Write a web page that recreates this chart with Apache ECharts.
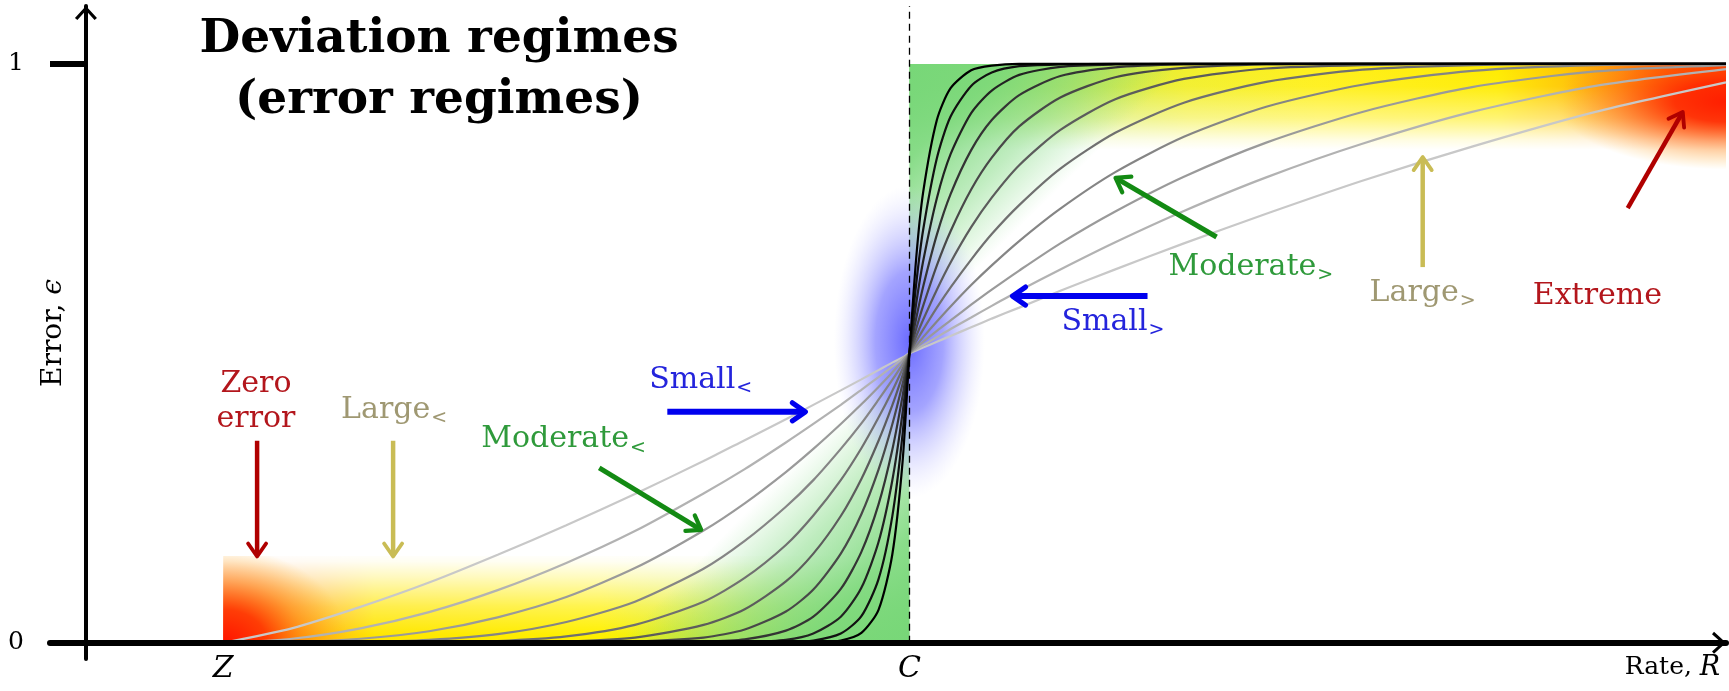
<!DOCTYPE html>
<html><head><meta charset="utf-8">
<script src="https://cdn.jsdelivr.net/npm/echarts@6/dist/echarts.min.js"></script>
<style>html,body{margin:0;padding:0;background:#fff}#chart{width:1729px;height:691px}</style>
</head><body><div id="chart"></div>
<script>
// ---------------- data ----------------
const xTickValues = [1, 6, 11.56];
const xTickLabels = ['Z', 'C', 'Rate, R'];
const yTickValues = [0, 1];
const yTickLabels = ['0', '1'];
const yAxisTitle = 'Error, ϵ';

// shared rate positions of the sampled points (Z = 1, C = 6)
const rateX = [1, 1.5, 2, 2.5, 3, 3.5, 4, 4.5, 4.8, 5.1, 5.3, 5.5, 5.65, 5.775, 5.875, 5.95, 6,
               6.05, 6.1, 6.2, 6.3, 6.45, 6.6, 6.8, 7.1, 7.5, 8, 8.6, 9.3, 10.1, 11, 11.95];

// error curves, lightest (broadest) to darkest (sharpest)
const curve01 = [0, .025, .062, .104, .152, .203, .257, .314, .350, .386, .411, .436, .455, .471, .484, .493, .5,
                 .505, .510, .520, .530, .545, .560, .579, .608, .645, .690, .741, .798, .857, .917, .968];
const curve02 = [0, .007, .025, .053, .091, .138, .193, .258, .300, .346, .378, .411, .437, .459, .477, .491, .5,
                 .507, .514, .528, .542, .562, .582, .608, .645, .692, .746, .804, .862, .917, .962, .991];
const curve03 = [0, .001, .007, .020, .044, .079, .129, .194, .241, .295, .335, .378, .412, .442, .467, .487, .5,
                 .510, .520, .539, .557, .584, .610, .643, .690, .745, .805, .864, .917, .960, .987, .998];
const curve04 = [0, 0, .001, .005, .015, .036, .071, .128, .176, .235, .281, .335, .379, .420, .454, .481, .5,
                 .514, .528, .555, .581, .618, .652, .694, .750, .813, .874, .926, .964, .988, .998, 1];
const curve05 = [0, 0, 0, .001, .003, .011, .031, .071, .112, .169, .220, .281, .336, .389, .435, .473, .5,
                 .521, .541, .579, .614, .662, .706, .756, .819, .881, .933, .969, .990, .998, 1, 1];
const curve06 = [0, 0, 0, 0, 0, .002, .009, .031, .058, .106, .154, .219, .283, .349, .410, .462, .5,
                 .530, .558, .610, .657, .718, .769, .825, .886, .939, .974, .992, .998, 1, 1, 1];
const curve07 = [0, 0, 0, 0, 0, 0, .002, .009, .023, .054, .092, .154, .222, .299, .377, .447, .5,
                 .543, .582, .652, .711, .783, .838, .892, .942, .977, .993, .999, 1, 1, 1, 1];
const curve08 = [0, 0, 0, 0, 0, 0, 0, .002, .006, .021, .045, .093, .157, .239, .333, .426, .5,
                 .561, .615, .705, .775, .851, .903, .946, .979, .994, .999, 1, 1, 1, 1, 1];
const curve09 = [0, 0, 0, 0, 0, 0, 0, 0, .001, .005, .016, .045, .095, .174, .280, .397, .5,
                 .587, .659, .768, .844, .915, .954, .981, .995, .999, 1, 1, 1, 1, 1, 1];
const curve10 = [0, 0, 0, 0, 0, 0, 0, 0, 0, .001, .004, .016, .046, .110, .218, .360, .5,
                 .621, .713, .837, .909, .962, .985, .996, .999, 1, 1, 1, 1, 1, 1, 1];
const curve11 = [0, 0, 0, 0, 0, 0, 0, 0, 0, 0, 0, .004, .017, .057, .152, .312, .5,
                 .666, .778, .903, .958, .989, .997, 1, 1, 1, 1, 1, 1, 1, 1, 1];

// regime zones (rate from, error from, rate to, error to)
const zoneNames = ['bandLow', 'fadeLow', 'zeroBlob', 'greenLow', 'bandHigh', 'fadeHigh', 'extremeBlob', 'greenHigh', 'smallBlob'];
const zoneBounds = [
  [1, 0, 6, 0.15], [0.99, 0, 6, 0.156], [1, 0, 2.4, 0.15], [3.6, 0, 6, 0.56],
  [6, 0.85, 11.95, 1], [6, 0.844, 11.95, 1], [10.0, 0.8, 11.95, 1], [6, 0.54, 7.9, 1],
  [5.45, 0.25, 6.55, 0.79]
];

// annotation arrows (from rate, from error, to rate, to error)
const arrowSegments = [
  [1.247, 0.349, 1.247, 0.149], [2.238, 0.349, 2.238, 0.149],
  [3.740, 0.302, 4.483, 0.195], [4.236, 0.399, 5.242, 0.399],
  [7.735, 0.599, 6.751, 0.599], [8.238, 0.701, 7.502, 0.803],
  [9.740, 0.649, 9.740, 0.839], [11.234, 0.751, 11.635, 0.917]
];
// annotation labels
const labelTexts = ['Zero\nerror', 'Large', 'Moderate', 'Small', 'Small', 'Moderate', 'Large', 'Extreme'];
const labelSubs = ['', '<', '<', '<', '>', '>', '>', ''];
const labelAnchors = [[1.239, 0.417], [1.859, 0.402], [2.880, 0.351], [4.104, 0.454],
                      [7.108, 0.554], [7.888, 0.649], [9.353, 0.604], [10.542, 0.598]];

// ---------------- styles ----------------
const curves = [curve01, curve02, curve03, curve04, curve05, curve06, curve07, curve08, curve09, curve10, curve11];
const curveColors = ['#c8c8c8', '#b2b2b2', '#9a9a9a', '#858585', '#707070', '#5c5c5c', '#484848', '#343434', '#222222', '#111111', '#000000'];
const arrowColors = ['#b00000', '#c9bc55', '#138a13', '#0000ee', '#0000ee', '#138a13', '#c9bc55', '#b00000'];
const arrowWidths = [4.5, 4.5, 5, 6, 6, 5, 4.5, 4.5];
const labelColors = ['#b3161c', '#9f9872', '#2f9a3b', '#2424dc', '#2424dc', '#2f9a3b', '#9f9872', '#b3161c'];
const labelAligns = ['center', 'left', 'left', 'left', 'left', 'left', 'left', 'left'];
const SERIF = 'DejaVu Serif';
const chevron = 'path://M0,12 L11,0 L22,12 L19.6,14 L11,4.4 L2.4,14 Z';

const G = echarts.graphic;
function lin(x, y, x2, y2, stops) { return new G.LinearGradient(x, y, x2, y2, stops.map(s => ({offset: s[0], color: s[1]}))); }
function rad(x, y, r, stops) { return new G.RadialGradient(x, y, r, stops.map(s => ({offset: s[0], color: s[1]})), true); }

// rectangle filled with an elliptical radial gradient centred at (cx, cy)
function ellipticRect(x, y, w, h, cx, cy, rx, ry, stops) {
  const k = ry / rx;
  return {
    type: 'rect',
    shape: {x: x, y: cy + (y - cy) / k, width: w, height: h / k},
    scaleY: k, originX: cx, originY: cy,
    style: {fill: rad(cx, cy, rx, stops)}
  };
}

function renderZone(params, api) {
  const name = zoneNames[params.dataIndex];
  const a = api.coord([api.value(0), api.value(1)]);
  const b = api.coord([api.value(2), api.value(3)]);
  const x = a[0], y = b[1], w = b[0] - a[0], h = a[1] - b[1];
  let fill;
  if (name === 'bandLow') {
    fill = lin(0, 0, 1, 0, [[0, '#ff4a1a'], [0.1, '#ffa020'], [0.22, '#ffe600'], [0.55, '#fff000'], [0.72, '#d8ec30'], [0.86, '#a8e060'], [1, '#80d880']]);
  } else if (name === 'fadeLow') {
    fill = lin(0, 0, 0, 1, [[0, 'rgba(255,255,255,1)'], [0.1, 'rgba(255,255,255,0.95)'], [0.27, 'rgba(255,255,255,0.75)'], [0.6, 'rgba(255,255,255,0.3)'], [0.92, 'rgba(255,255,255,0)'], [1, 'rgba(255,255,255,0)']]);
  } else if (name === 'zeroBlob') {
    return ellipticRect(x, y, w, h, a[0], a[1], 125, 95,
      [[0, 'rgba(255,20,0,1)'], [0.35, 'rgba(255,55,0,0.92)'], [0.65, 'rgba(255,130,0,0.5)'], [1, 'rgba(255,180,0,0)']]);
  } else if (name === 'greenLow') {
    fill = lin(0, 0, 1, 1, [[0, 'rgba(130,220,130,0)'], [0.55, 'rgba(130,220,130,0)'], [0.69, 'rgba(128,218,128,0.5)'], [0.84, 'rgba(122,216,122,0.88)'], [1, 'rgba(120,215,120,1)']]);
  } else if (name === 'bandHigh') {
    fill = lin(0, 0, 1, 0, [[0, '#7fd87f'], [0.1, '#a2e069'], [0.22, '#cfe947'], [0.34, '#f2ef2a'], [0.5, '#fff01a'], [0.72, '#ffec00'], [0.8, '#ffc800'], [0.87, '#ff8c10'], [0.93, '#ff4a05'], [1, '#ff2a00']]);
  } else if (name === 'fadeHigh') {
    fill = lin(0, 0, 0, 1, [[0, 'rgba(255,255,255,0)'], [0.25, 'rgba(255,255,255,0.05)'], [0.6, 'rgba(255,255,255,0.45)'], [0.84, 'rgba(255,255,255,0.88)'], [0.95, 'rgba(255,255,255,1)'], [1, 'rgba(255,255,255,1)']]);
  } else if (name === 'extremeBlob') {
    const c = api.coord([11.95, 0.935]);
    return ellipticRect(x, y, w, h, c[0], c[1], 170, 68,
      [[0, 'rgba(255,30,0,1)'], [0.3, 'rgba(255,45,0,0.92)'], [0.6, 'rgba(255,100,0,0.5)'], [1, 'rgba(255,170,0,0)']]);
  } else if (name === 'greenHigh') {
    fill = lin(0, 0, 1, 1, [[0, 'rgba(120,215,120,1)'], [0.18, 'rgba(122,216,122,0.9)'], [0.36, 'rgba(128,218,128,0.5)'], [0.52, 'rgba(130,220,130,0)'], [1, 'rgba(130,220,130,0)']]);
  } else if (name === 'smallBlob') {
    const cx = x + w / 2, cy = y + h / 2, rx = w / 2, ry = h / 2;
    return {
      type: 'circle', shape: {cx: cx, cy: cy, r: rx},
      scaleY: ry / rx, originX: cx, originY: cy,
      style: {fill: rad(cx, cy, rx, [[0, 'rgba(95,95,255,0.92)'], [0.45, 'rgba(115,115,255,0.65)'], [0.75, 'rgba(160,160,255,0.3)'], [1, 'rgba(200,200,255,0)']])}
    };
  }
  return {type: 'rect', shape: {x: x, y: y, width: w, height: h}, style: {fill: fill}};
}

function renderArrow(params, api) {
  const i = params.dataIndex;
  const s = api.coord([api.value(0), api.value(1)]);
  const e = api.coord([api.value(2), api.value(3)]);
  const dx = e[0] - s[0], dy = e[1] - s[1], len = Math.hypot(dx, dy);
  const ux = dx / len, uy = dy / len, px = -uy, py = ux;
  const hl = 13, hw = 9, col = arrowColors[i], lw = arrowWidths[i];
  const bx = e[0] - ux * hl, by = e[1] - uy * hl;
  return {type: 'group', children: [
    {type: 'line', shape: {x1: s[0], y1: s[1], x2: e[0] - ux * 2, y2: e[1] - uy * 2}, style: {stroke: col, lineWidth: lw}},
    {type: 'polyline', shape: {points: [[bx + px * hw, by + py * hw], [e[0], e[1]], [bx - px * hw, by - py * hw]]},
     style: {stroke: col, fill: null, lineWidth: lw * 0.85, lineJoin: 'round', lineCap: 'round'}}
  ]};
}

const measureCtx = document.createElement('canvas').getContext('2d');
function textWidth(str, font) { measureCtx.font = font; return measureCtx.measureText(str).width; }

function renderLabel(params, api) {
  const i = params.dataIndex;
  const p = api.coord([api.value(0), api.value(1)]);
  const children = [{type: 'text', style: {text: labelTexts[i], x: p[0], y: p[1], fill: labelColors[i], fontSize: 30,
    fontFamily: SERIF, align: labelAligns[i], verticalAlign: 'middle', lineHeight: 35}}];
  if (labelSubs[i]) {
    const w = textWidth(labelTexts[i], '30px "' + SERIF + '"');
    children.push({type: 'text', style: {text: labelSubs[i], x: p[0] + w + 1, y: p[1] + 8, fill: labelColors[i], fontSize: 19,
      fontFamily: SERIF, align: 'left', verticalAlign: 'middle'}});
  }
  return {type: 'group', children: children};
}

const lineSeries = curves.map((c, k) => ({
  type: 'line', name: 'curve' + (k + 1), z: 2, silent: true, showSymbol: false,
  smooth: 0.25,
  data: rateX.map((x, j) => [x, c[j]]),
  lineStyle: {color: curveColors[k], width: 2.2}, itemStyle: {color: curveColors[k]}
}));

const chart = echarts.init(document.getElementById('chart'), null, {renderer: 'canvas'});
chart.setOption({
  animation: false,
  backgroundColor: '#fff',
  grid: {left: 50, right: 3, top: 6, bottom: 32, containLabel: false, outerBoundsMode: 'none'},
  xAxis: {
    type: 'value', min: -0.262, max: 11.95, z: 6,
    axisLine: {show: true, onZero: true, lineStyle: {color: '#000', width: 6}, symbol: ['none', chevron], symbolSize: [22, 14], symbolOffset: [0, -7]},
    axisTick: {show: false}, splitLine: {show: false},
    axisLabel: {
      customValues: xTickValues, margin: -5, color: '#000', hideOverlap: false,
      formatter: v => {
        const k = xTickValues.indexOf(v);
        const t = xTickLabels[k];
        if (t === 'Rate, R') return '{n|Rate, }{i|R}';
        return '{z|' + t + '}';
      },
      rich: {
        z: {fontFamily: SERIF, fontStyle: 'italic', fontSize: 30, color: '#000'},
        i: {fontFamily: SERIF, fontStyle: 'italic', fontSize: 27, color: '#000'},
        n: {fontFamily: SERIF, fontSize: 25, color: '#000'}
      }
    }
  },
  yAxis: {
    type: 'value', min: -0.028, max: 1.1, z: 6,
    axisLine: {show: true, onZero: true, lineStyle: {color: '#000', width: 4}, symbol: ['none', chevron], symbolSize: [22, 14], symbolOffset: [0, -7]},
    axisTick: {show: false}, splitLine: {show: false},
    axisLabel: {
      customValues: yTickValues, margin: 26, color: '#000', fontFamily: SERIF, fontSize: 25,
      formatter: v => yTickLabels[yTickValues.indexOf(v)]
    }
  },
  graphic: [{
    type: 'text', x: 439, y: 9, z: 10,
    style: {text: 'Deviation regimes\n(error regimes)', align: 'center', verticalAlign: 'top',
      fontFamily: SERIF, fontWeight: 'bold', fontSize: 47, lineHeight: 61, fill: '#000'}
  }, {
    type: 'text', x: 54, y: 333, rotation: Math.PI / 2, z: 10,
    style: {text: '{n|' + yAxisTitle.slice(0, -1) + '}{i|' + yAxisTitle.slice(-1) + '}', align: 'center', verticalAlign: 'middle',
      rich: {
        n: {fontFamily: SERIF, fontSize: 28, fill: '#000'},
        i: {fontFamily: SERIF, fontStyle: 'italic', fontSize: 28, fill: '#000'}
      }}
  }],
  series: [
    {type: 'custom', name: 'zones', z: 1, silent: true, clip: true, renderItem: renderZone,
     encode: {x: [0, 2], y: [1, 3]}, data: zoneBounds},
    ...lineSeries,
    {type: 'line', name: 'guides', z: 3, silent: true, data: [],
     markLine: {silent: true, symbol: ['none', 'none'], label: {show: false}, animation: false,
       data: [
         [{coord: [6, 0], lineStyle: {type: [7, 5], width: 1.3, color: '#000'}}, {coord: [6, 1.1]}],
         [{coord: [-0.262, 1], lineStyle: {type: 'solid', width: 6, color: '#000'}}, {coord: [0, 1]}]
       ]}},
    {type: 'custom', name: 'arrows', z: 4, silent: true, renderItem: renderArrow,
     encode: {x: [0, 2], y: [1, 3]}, data: arrowSegments},
    {type: 'custom', name: 'labels', z: 5, silent: true, renderItem: renderLabel,
     encode: {x: 0, y: 1}, data: labelAnchors}
  ]
});
</script></body></html>
